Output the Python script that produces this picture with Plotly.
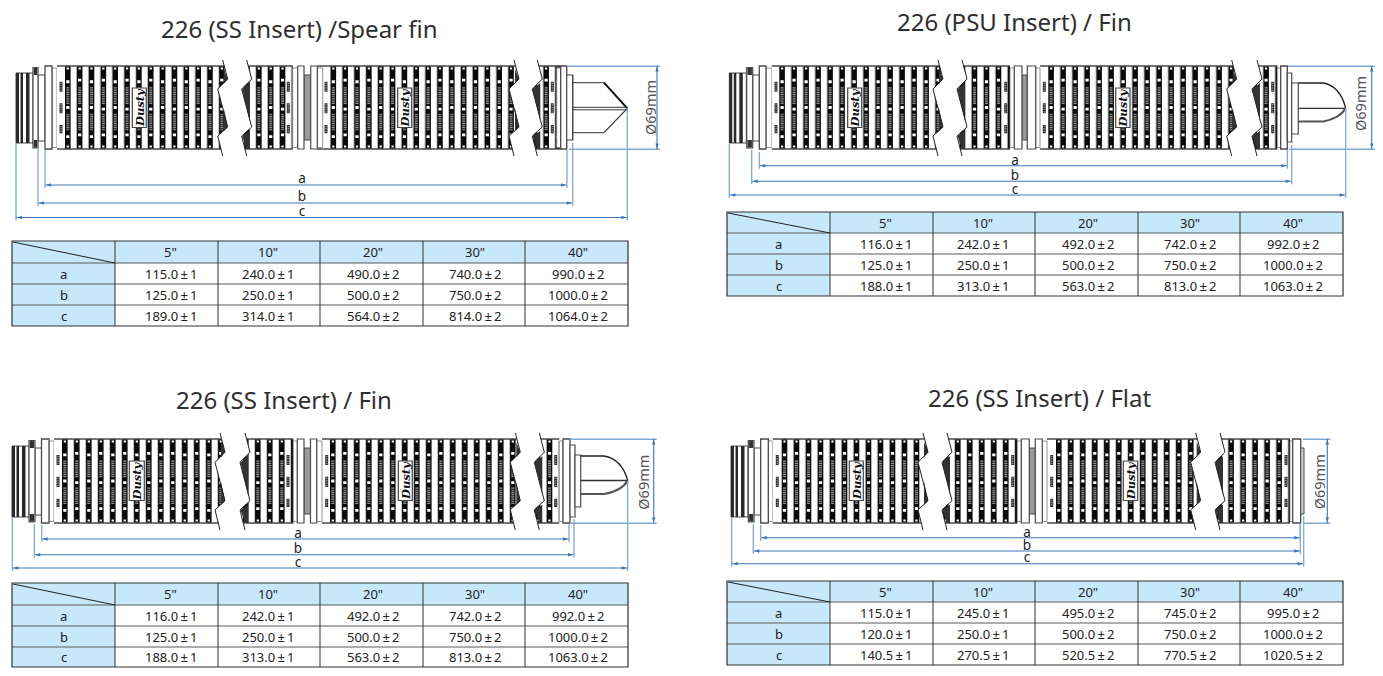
import plotly.graph_objects as go

# ---------- data ----------
sizes = ['5"', '10"', '20"', '30"', '40"']
row_labels = ["a", "b", "c"]

titles = ["226 (SS Insert) /Spear fin", "226 (PSU Insert) / Fin", "226 (SS Insert) / Fin", "226 (SS Insert) / Flat"]
diameter_label = "Ø69mm"
logo_text = "Dusty"

spear_a = ["115.0±1", "240.0±1", "490.0±2", "740.0±2", "990.0±2"]
spear_b = ["125.0±1", "250.0±1", "500.0±2", "750.0±2", "1000.0±2"]
spear_c = ["189.0±1", "314.0±1", "564.0±2", "814.0±2", "1064.0±2"]

psu_a = ["116.0±1", "242.0±1", "492.0±2", "742.0±2", "992.0±2"]
psu_b = ["125.0±1", "250.0±1", "500.0±2", "750.0±2", "1000.0±2"]
psu_c = ["188.0±1", "313.0±1", "563.0±2", "813.0±2", "1063.0±2"]

ss_fin_a = ["116.0±1", "242.0±1", "492.0±2", "742.0±2", "992.0±2"]
ss_fin_b = ["125.0±1", "250.0±1", "500.0±2", "750.0±2", "1000.0±2"]
ss_fin_c = ["188.0±1", "313.0±1", "563.0±2", "813.0±2", "1063.0±2"]

flat_a = ["115.0±1", "245.0±1", "495.0±2", "745.0±2", "995.0±2"]
flat_b = ["120.0±1", "250.0±1", "500.0±2", "750.0±2", "1000.0±2"]
flat_c = ["140.5±1", "270.5±1", "520.5±2", "770.5±2", "1020.5±2"]

# ---------- page & styles ----------
W, H = 1383, 676
FONT = "Noto Sans"
TXT = "#222222"
BLUE = "#3A76B5"
PALE = "#7FA8D4"
HEAD = "#C6E8FA"
EDGE = "#4a4a4a"

shapes = []
annotations = []
dim_labels_x, dim_labels_y, dim_labels_t = [], [], []
cell_x, cell_y, cell_t = [], [], []


def add_path(d, fill=None, line=None, lw=1.0):
    s = dict(type="path", path=d, xref="x", yref="y", layer="above",
             line=dict(color=line if line else "rgba(0,0,0,0)", width=lw if line else 0))
    if fill:
        s["fillcolor"] = fill
    shapes.append(s)


def rect(a, b, c, d):
    return f"M{a:.2f} {b:.2f}H{c:.2f}V{d:.2f}H{a:.2f}Z"


def seg(a, b, c, d):
    return f"M{a:.2f} {b:.2f}L{c:.2f} {d:.2f}"


def poly(pts, close=True):
    p = "M" + "L".join(f"{x:.2f} {y:.2f}" for x, y in pts)
    return p + ("Z" if close else "")


def frange(start, stop, step):
    out = []
    v = start
    while v < stop:
        out.append(v)
        v += step
    return out


def pleats(x0, x1, first, period, top, bot):
    """Ribbed section: white ribs and black bars, with hatch and small windows."""
    add_path(rect(x0, top, x1, bot), fill="white")
    black, gray, ticks, white, thin = [], [], [], [], []
    bars = frange(first, x1 - 1, period)
    h = bot - top
    for i, b in enumerate(bars):
        e = min(b + 5.6, x1)
        black.append(rect(b, top, e, bot))
        thin.append(seg(b + period - 0.3, top, b + period - 0.3, bot))
        if e - b < 4:
            continue
        mid = b + 1.3
        r = mid + 3
        gray.append(rect(mid, top + h * 0.25, r, top + h * 0.46))
        gray.append(rect(mid, top + h * 0.57, r, top + h * 0.77))
        for yy in frange(top + h * 0.26, top + h * 0.46, 2.2):
            ticks.append(rect(mid, yy, r, yy + 0.7))
        for yy in frange(top + h * 0.58, top + h * 0.77, 2.2):
            ticks.append(rect(mid, yy, r, yy + 0.7))
        for rel in ((0.17, 0.52, 0.83) if i % 2 else (0.19, 0.50, 0.85)):
            white.append(rect(b + 1.2, top + h * rel - 1.4, b + 4.4, top + h * rel + 1.4))
        for rel in (0.03, 0.97):
            white.append(rect(b + 1.7, top + h * rel - 0.9, b + 3.9, top + h * rel + 0.9))
    add_path("".join(black), fill="#0a0a0a")
    add_path("".join(gray), fill="#3c3c3c")
    add_path("".join(ticks), fill="#a8a8a8")
    add_path("".join(white), fill="#ffffff")
    add_path("".join(thin), line="#8a8a8a", lw=0.6)
    add_path(seg(x0, top, x1, top) + seg(x0, bot, x1, bot), line=EDGE, lw=1.3)


def pills(x, top, bot):
    h = bot - top
    dark, light = [], []
    for rel in ((0.19, 0.31), (0.45, 0.57), (0.71, 0.81)):
        dark.append(rect(x - 1.5, top + h * rel[0], x + 1.5, top + h * rel[1]))
        for yy in frange(top + h * rel[0] + 1, top + h * rel[1] - 0.5, 2.4):
            light.append(rect(x - 0.6, yy, x + 0.6, yy + 0.9))
    add_path("".join(dark), fill="#333333")
    add_path("".join(light), fill="#bdbdbd")


def collar(a, b, top, bot, lw=1.2, color=EDGE, fill="white"):
    add_path(rect(a, top, b, bot), fill=fill, line=color, lw=lw)


def badge(a, b, top, bot):
    add_path(rect(a, top, b, bot), fill="white", line="#444444", lw=1.2)
    annotations.append(dict(x=(a + b) / 2, y=(top + bot) / 2, xref="x", yref="y",
                            text=f"<b><i>{logo_text}</i></b>", showarrow=False, textangle=-90,
                            font=dict(family="DejaVu Serif", size=11.5, color="#111111"),
                            xanchor="center", yanchor="middle"))


ZX = [0, 5, -5, 5, -5, 0]
ZY = [-6, 13, 23, 61, 70, 90]


def zig_break(xl, xr, top, bot):
    k = (bot - top) / 83
    left = [(xl + dx, top + k * dy) for dx, dy in zip(ZX, ZY)]
    right = [(xr + dx, top + k * dy) for dx, dy in zip(ZX, ZY)]
    add_path(poly(left + right[::-1]), fill="white")
    # dark wedges beside the break
    add_path(poly([(xl + 1, top + 3 * k), (xl + 5, top + 13 * k), (xl + 1, top + 18 * k)]) +
             poly([(xl + 1, top + 42 * k), (xl + 5, top + 61 * k), (xl + 1, top + 65 * k)]) +
             poly([(xr - 4.5, top + 23 * k), (xr + 3, top + 17 * k), (xr + 3, top + 55 * k)]) +
             poly([(xr - 4.5, top + 70 * k), (xr + 3, top + 65 * k), (xr + 3, top + 83 * k), (xr, top + 83 * k)]),
             fill="#333333")
    add_path(poly(left, close=False) + poly(right, close=False), line="#222222", lw=1.0)


def arrow_h(x, y, direction):
    add_path(poly([(x, y), (x + direction * 5, y - 1.7), (x + direction * 5, y + 1.7)]), fill=BLUE)


def arrow_v(x, y, direction):
    add_path(poly([(x, y), (x - 1.7, y + direction * 5), (x + 1.7, y + direction * 5)]), fill=BLUE)


def coupling(x0, top, bot):
    t, b = top + 7, bot - 6
    add_path(rect(x0, t, x0 + 17, b), fill="white", line=EDGE, lw=1)
    add_path(rect(x0, t, x0 + 3, b) + rect(x0 + 4.5, t, x0 + 7, b) + rect(x0 + 10, t, x0 + 13.5, b), fill="#2a2a2a")


def filter_unit(c):
    top, bot = c["top"], c["bot"]
    coupling(c["x0"], top, bot)
    fa, fb, na, cb, sb = c["left"]
    collar(fb, na, top + 9, bot - 8, lw=1)
    collar(fa, fb, top + 1.5, bot - 1, lw=1.2)
    add_path(rect(fa + 0.8, top + 2, fb - 0.8, top + 9) + rect(fa + 0.8, bot - 9, fb - 0.8, bot - 1.5), fill="#333333")
    collar(cb, sb, top + 2, bot - 1.5, lw=0.8, color="#777777")
    collar(na, cb, top, bot, lw=1.3)

    for s in c["sections"]:
        pleats(s[0], s[1], s[2], c["period"], top, bot)
    for x in c["pills"]:
        pills(x, top, bot)

    ma, mb, mc, md, me, mf = c["mid"]
    collar(ma, mb, top + 2, bot - 1.5, lw=0.8, color="#777777")
    collar(me, mf, top + 2, bot - 1.5, lw=0.8, color="#777777")
    collar(mc, md, top + 9, bot - 9, lw=1, fill="#9a9a9a")
    collar(mb, mc, top, bot, lw=1.2)
    collar(md, me, top, bot, lw=1.2)

    for xl, xr in c["breaks"]:
        zig_break(xl, xr, top, bot)
    for a, b in c["badges"]:
        badge(a, b, top + 22, top + 61.5)

    ra, rb = c["right"]
    collar(ra, rb, top + 2, bot - 1.5, lw=0.8, color="#777777")
    e = c["end"]
    if e["type"] == "flat":
        collar(rb, e["x1"], top, bot, lw=1.3)
        collar(e["x1"], e["x2"], top + 9, bot - 9, lw=1, fill="#cccccc")
    else:
        collar(rb, e["x1"], top, bot, lw=1.3)
        collar(e["x1"], e["x2"], top + e["ft"], bot - e["ft"], lw=1.2)
        collar(e["x2"], e["x3"], e["t1"], e["b1"], lw=1.2)
        tipx, tipy = e["tip"]
        sx = e["sx"]
        if e["type"] == "spear":
            add_path(seg(e["x3"], e["t2"], sx, e["t2"]) + seg(e["x3"], e["b2"], sx, e["b2"]), line="#333333", lw=1)
            add_path(seg(sx, e["t2"], tipx, tipy), line="#111111", lw=2)
            add_path(seg(sx, e["b2"], tipx, tipy), line="#333333", lw=1.2)
            add_path(seg(e["x3"], tipy - 1, tipx, tipy - 1) + seg(e["x3"], tipy + 1.5, tipx, tipy + 1.5), line="#333333", lw=1)
        else:
            top_curve = (f"M{e['x3']:.2f} {e['t2']:.2f}L{sx:.2f} {e['t2']:.2f}"
                         f"Q{sx + (tipx - sx) * 0.75:.2f} {e['t2'] + 3:.2f} {tipx:.2f} {tipy:.2f}")
            low_curve = f"M{tipx:.2f} {tipy:.2f}Q{tipx - 6:.2f} {e['b2'] - 3:.2f} {sx:.2f} {e['b2']:.2f}L{e['x3']:.2f} {e['b2']:.2f}"
            add_path(top_curve, line="#222222", lw=1.3)
            add_path(low_curve, line="#555555", lw=2.2)
            add_path(seg(e["x3"], tipy, tipx, tipy), line="#333333", lw=1.3)

    d = c["dims"]
    for (lx, rx, y, ly0, ry0, lab_y) in d["rows"]:
        add_path(seg(lx, y, rx, y), line=BLUE, lw=1.1)
        arrow_h(lx + 1, y, 1)
        arrow_h(rx - 1, y, -1)
        add_path(seg(lx, ly0, lx, y + 3), line=PALE, lw=1.3)
        add_path(seg(rx, ry0, rx, y + 3), line=PALE, lw=1.3)
        dim_labels_x.append(d["label_x"])
        dim_labels_y.append(lab_y)
    dim_labels_t.extend(row_labels)

    dx, ex0 = d["dia_x"], d["ext_x"]
    add_path(seg(ex0, top + 0.3, dx + 3, top + 0.3) + seg(ex0 + 1, bot + 0.3, dx + 3, bot + 0.3), line=PALE, lw=1.5)
    add_path(seg(dx, top, dx, bot), line=BLUE, lw=1.1)
    arrow_v(dx, top + 0.5, 1)
    arrow_v(dx, bot - 0.5, -1)
    annotations.append(dict(x=d["text_x"], y=d["text_y"], xref="x", yref="y", text=diameter_label, showarrow=False,
                            textangle=-90, font=dict(family=FONT, size=14.5, color="#555555"),
                            xanchor="center", yanchor="middle"))


units = [
    dict(x0=16, top=66, bot=149, period=11.85,
         left=(33, 38, 45, 52, 57),
         sections=[(57, 228, 65), (241, 292.7, 244.2), (317.3, 518, 330.5), (528, 560.7, 531.5)],
         pills=[61, 288.3, 326, 552.3],
         mid=(292.7, 297.7, 304, 310.7, 317.3, 322.7),
         breaks=[(222.7, 246.7), (514, 537.3)],
         badges=[(132.3, 146.3), (397.7, 411.7)],
         right=(556.7, 560.7),
         end=dict(type="spear", x1=566.7, ft=9, x2=572.7, x3=572.7, t1=75, b1=140, t2=82.7, b2=132.7, sx=604, tip=(627.3, 108.3)),
         dims=dict(rows=[(45, 567, 185, 150, 150, 180), (38, 572.7, 203, 149, 143, 197.5), (16, 627.3, 217.5, 143, 108, 213)],
                   label_x=302, dia_x=657, ext_x=568, text_x=650, text_y=108)),
    dict(x0=729.3, top=66, bot=149, period=12,
         left=(746.7, 752.7, 759.3, 766, 771.7),
         sections=[(771.7, 943, 779.3), (957, 1010, 959.7), (1040, 1237, 1048.3), (1252, 1277.3, 1251.3)],
         pills=[776, 1005.7, 1044.3, 1272.7],
         mid=(1010, 1014.3, 1022, 1027.3, 1035.7, 1040),
         breaks=[(938, 962), (1231.7, 1257)],
         badges=[(847.7, 861.7), (1115.7, 1130)],
         right=(1277.3, 1280.7),
         end=dict(type="fin", x1=1287.3, ft=7, x2=1291.7, x3=1298.3, t1=83, b1=134, t2=83, b2=121.5, sx=1323.3, tip=(1345.7, 108.3)),
         dims=dict(rows=[(759.3, 1287.3, 165.7, 152, 150, 162), (751.7, 1291.7, 181.3, 150, 145, 177), (729.3, 1345.7, 195, 144, 108, 191)],
                   label_x=1015, dia_x=1371.7, ext_x=1288, text_x=1360, text_y=104)),
    dict(x0=12, top=439, bot=523, period=12,
         left=(29, 35, 41.5, 49, 54),
         sections=[(54, 226, 62), (240, 293.3, 243), (322, 521, 330), (534, 559.3, 534.7)],
         pills=[58, 288, 326.7, 555.7],
         mid=(293.3, 297.3, 304, 310.5, 316.7, 322),
         breaks=[(220, 245), (515.3, 539.3)],
         badges=[(129.3, 144.3), (398.3, 412.3)],
         right=(559.3, 563),
         end=dict(type="fin", x1=570, ft=6, x2=575, x3=580.7, t1=455, b1=507, t2=456, b2=494, sx=604, tip=(627.7, 480.5)),
         dims=dict(rows=[(41.7, 569, 539, 525, 524, 535), (34.3, 574, 554.7, 524, 519, 550), (12.3, 627.7, 568, 517, 481, 564)],
                   label_x=298, dia_x=653.7, ext_x=570, text_x=642.7, text_y=482)),
    dict(x0=731, top=439, bot=523, period=12,
         left=(748.3, 754, 760.7, 768.3, 772.7),
         sections=[(772.7, 928, 781.7), (942, 1017.3, 943), (1047, 1201, 1056), (1215, 1290, 1216.3)],
         pills=[777.3, 1012.7, 1051.7, 1286],
         mid=(1017.3, 1021.3, 1029.3, 1035.3, 1042.3, 1047),
         breaks=[(923, 947), (1195.7, 1220)],
         badges=[(849.3, 863.3), (1123.3, 1137.7)],
         right=(1290, 1292.7),
         end=dict(type="flat", x1=1300.7, x2=1304),
         dims=dict(rows=[(760.7, 1300.3, 537.7, 525, 523, 534), (753.3, 1300.3, 551, 524, 523, 547), (731.7, 1303.7, 563.7, 517, 516, 559)],
                   label_x=1027, dia_x=1327.3, ext_x=1303, text_x=1319.3, text_y=482)),
]
for u in units:
    filter_unit(u)


# ---------- dimension tables ----------
def draw_table(xs, ys, rows):
    add_path(rect(xs[0], ys[0], xs[-1], ys[1]) + rect(xs[0], ys[1], xs[1], ys[-1]), fill=HEAD)
    h_lines = "".join(seg(xs[0], y, xs[-1], y) for y in ys[1:-1])
    v_lines = "".join(seg(x, ys[0], x, ys[-1]) for x in xs[1:-1])
    add_path(h_lines, line="#5a5a5a", lw=1.1)
    add_path(v_lines, line="#333333", lw=1.0)
    add_path(rect(xs[0], ys[0], xs[-1], ys[-1]), line="#333333", lw=1.2)
    add_path(seg(xs[0] + 1, ys[0] + 1, xs[1], ys[1]), line="#222222", lw=1)
    nudge = [4, -1.5, 1.5, 0.5, 1]
    for j, s in enumerate(sizes):
        cell_x.append((xs[j + 1] + xs[j + 2]) / 2 + nudge[j])
        cell_y.append((ys[0] + ys[1]) / 2)
        cell_t.append(s)
    for i, (lab, row) in enumerate(zip(row_labels, rows)):
        yc = (ys[i + 1] + ys[i + 2]) / 2
        cell_x.append((xs[0] + xs[1]) / 2)
        cell_y.append(yc)
        cell_t.append(lab)
        for j, v in enumerate(row):
            cell_x.append((xs[j + 1] + xs[j + 2]) / 2 + nudge[j])
            cell_y.append(yc)
            cell_t.append(v.replace("±", "\u2009±\u2009"))


left_cols = [12, 115, 218, 320, 423, 525, 628]
right_cols = [727, 830, 933, 1035, 1138, 1240, 1343]
draw_table(left_cols, [241, 263, 284, 305, 326], [spear_a, spear_b, spear_c])
draw_table(right_cols, [212, 233, 254, 275, 296], [psu_a, psu_b, psu_c])
draw_table(left_cols, [583, 605, 626, 647, 667], [ss_fin_a, ss_fin_b, ss_fin_c])
draw_table(right_cols, [581, 602, 623, 644, 665], [flat_a, flat_b, flat_c])

# ---------- figure ----------
fig = go.Figure()
fig.add_trace(go.Scatter(x=dim_labels_x, y=dim_labels_y, text=dim_labels_t, mode="text",
                         textposition="middle center", textfont=dict(family=FONT, size=13.5, color=TXT),
                         hoverinfo="skip", showlegend=False))

for text, (cx, cy) in zip(titles, [(299, 28), (1014, 21), (284, 399), (1040, 397)]):
    annotations.append(dict(x=cx, y=cy, xref="x", yref="y", text=text, showarrow=False,
                            font=dict(family=FONT, size=24, color="#2f2f2f"), xanchor="center", yanchor="middle"))

for x, y, t in zip(cell_x, cell_y, cell_t):
    annotations.append(dict(x=x, y=y, xref="x", yref="y", text=t, showarrow=False,
                            font=dict(family=FONT, size=13, color=TXT), xanchor="center", yanchor="middle"))

fig.update_layout(
    width=W, height=H, margin=dict(l=0, r=0, t=0, b=0), paper_bgcolor="white", plot_bgcolor="white",
    xaxis=dict(range=[0, W], visible=False, fixedrange=True),
    yaxis=dict(range=[H, 0], visible=False, fixedrange=True),
    shapes=shapes, annotations=annotations, showlegend=False,
)
fig.write_html("out.html", config=dict(displayModeBar=False),
               post_script="document.body.style.margin='0';document.body.style.overflow='hidden';")
